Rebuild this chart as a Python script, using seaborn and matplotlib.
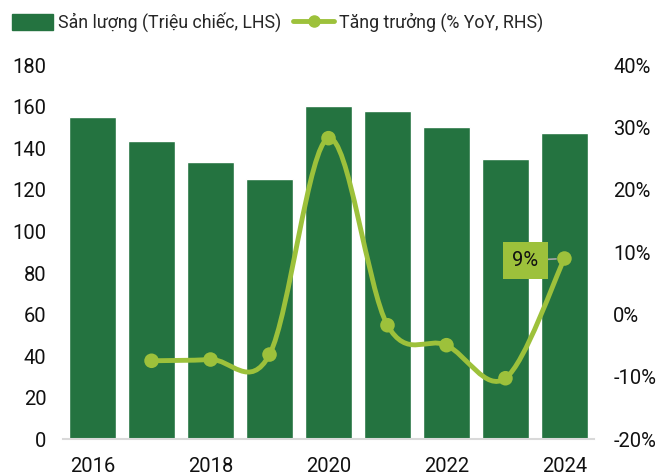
import numpy as np
import pandas as pd
import matplotlib.pyplot as plt
import seaborn as sns
from matplotlib.path import Path
from matplotlib.patches import PathPatch, Patch
from matplotlib.lines import Line2D

years = [2016, 2017, 2018, 2019, 2020, 2021, 2022, 2023, 2024]
output_m = [155.2, 143.7, 133.4, 125.1, 160.4, 158.0, 150.4, 134.9, 147.2]
growth_pct = [np.nan, -7.4, -7.2, -6.4, 28.3, -1.7, -4.9, -10.2, 9.0]

bar_label = 'Sản lượng (Triệu chiếc, LHS)'
line_label = 'Tăng trưởng (% YoY, RHS)'
bar_color = '#247340'
line_color = '#9DC13B'

df = pd.DataFrame({'year': years, 'output': output_m, 'growth': growth_pct})

sns.set_style('white')
plt.rcParams['font.family'] = ['Roboto', 'DejaVu Sans']

fig = plt.figure(figsize=(6.57, 4.76), dpi=100)
ax = fig.add_axes([0.096, 0.077, 0.808, 0.786])

sns.barplot(data=df, x='year', y='output', native_scale=True, width=0.79,
            color=bar_color, saturation=1, ax=ax)
ax.set_xlim(2015.5, 2024.5)
ax.set_ylim(0, 180)
ax.set_yticks(range(0, 181, 20))
ax.set_xticks(years[::2])
ax.set_xticklabels([str(y) for y in years[::2]])
ax.set_xlabel('')
ax.set_ylabel('')
for s in ['top', 'left', 'right']:
    ax.spines[s].set_visible(False)
ax.spines['bottom'].set_color('#D9D9D9')
ax.spines['bottom'].set_linewidth(1.5)
ax.tick_params(axis='both', length=0, labelsize=14.5, colors='#111111')
ax.tick_params(axis='y', pad=12)
ax.tick_params(axis='x', pad=13)

ax2 = ax.twinx()
ax2.set_ylim(-20, 40)
ax2.set_yticks(range(-20, 41, 10))
ax2.set_yticklabels([f'{v}%' for v in range(-20, 41, 10)])
for s in ax2.spines.values():
    s.set_visible(False)
ax2.tick_params(axis='y', length=0, labelsize=14.5, pad=14, colors='#111111')

# smoothed line (Catmull-Rom through the points, like Excel's smoothing)
g = df.dropna()
pts = g[['year', 'growth']].to_numpy(dtype=float)
verts = [pts[0]]
codes = [Path.MOVETO]
n = len(pts)
for i in range(n - 1):
    p0 = pts[i - 1] if i > 0 else pts[i]
    p1, p2 = pts[i], pts[i + 1]
    p3 = pts[i + 2] if i + 2 < n else pts[i + 1]
    verts += [p1 + (p2 - p0) / 6, p2 - (p3 - p1) / 6, p2]
    codes += [Path.CURVE4] * 3
ax2.add_patch(PathPatch(Path(verts, codes), facecolor='none',
                        edgecolor=line_color, lw=3.5, capstyle='round', zorder=3))
sns.scatterplot(data=g, x='year', y='growth', color=line_color, s=110,
                edgecolor='none', ax=ax2, zorder=4)
ax2.set_xlabel('')
ax2.set_ylabel('')

last = g.iloc[-1]
ax2.annotate(f"{last['growth']:.0f}%", xy=(last['year'], last['growth']),
             xytext=(last['year'] - 0.66, last['growth'] - 0.3),
             ha='center', va='center', fontsize=14.5, color='#111111',
             bbox=dict(boxstyle='square,pad=0.45', fc=line_color, ec='none'),
             arrowprops=dict(arrowstyle='-', color='#A6A6A6', lw=1.2,
                             shrinkA=0, shrinkB=6),
             zorder=5)

handles = [Patch(color=bar_color, label=bar_label),
           Line2D([0], [0], color=line_color, lw=3.5, marker='o', markersize=8,
                  label=line_label)]
fig.legend(handles=handles, loc='upper left', bbox_to_anchor=(0.0, 1.0),
           ncol=2, frameon=False, fontsize=12.8, handlelength=2.3,
           handleheight=1.0, handletextpad=0.25, columnspacing=0.7,
           borderaxespad=0.3)

plt.savefig('out.png', dpi=100)
